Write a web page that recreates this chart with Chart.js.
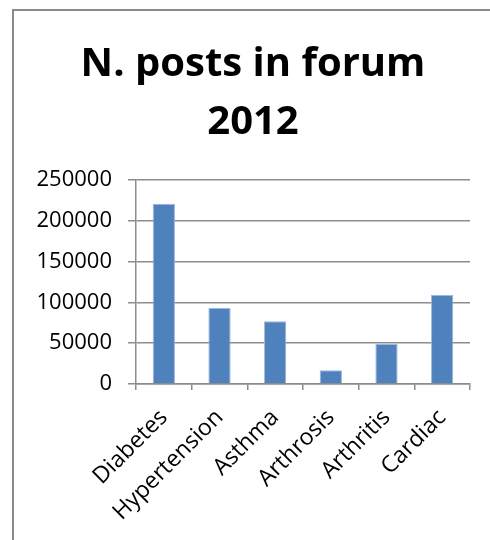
<!DOCTYPE html>
<html>
<head>
<meta charset="utf-8">
<script src="https://cdn.jsdelivr.net/npm/chart.js@4"></script>
<style>
  html, body { margin: 0; padding: 0; background: #fff; overflow: hidden; }
  #wrap { position: relative; width: 490px; height: 540px; }
  #frame {
    position: absolute; left: 12px; top: 9px; width: 500px; height: 560px;
    border: 2px solid #8a8a8a; box-sizing: border-box;
  }
  canvas { position: absolute; left: 0; top: 0; }
</style>
</head>
<body>
<div id="wrap">
  <div id="frame"></div>
  <canvas id="postsChart" width="490" height="540"></canvas>
</div>
<script>
// ---------- DATA ----------
const categories = ["Diabetes", "Hypertension", "Asthma", "Arthrosis", "Arthritis", "Cardiac"];
const posts = [221000, 93000, 77000, 17000, 49000, 109000];
const titleLines = ["N. posts in forum", "2012"];
const Y_MAX = 250000;
const Y_STEP = 50000;

const FONT = "'Open Sans', 'Noto Sans', sans-serif";
const GRID = "#8c8c8c";

// ---------- CHART ----------
const ctx = document.getElementById("postsChart").getContext("2d");

new Chart(ctx, {
  type: "bar",
  data: {
    labels: categories,
    datasets: [
      {
        label: "N. posts",
        data: posts,
        backgroundColor: "#4f81bd",
        borderColor: "#9cb7d9",
        borderWidth: 1,
        barPercentage: 0.4,
        categoryPercentage: 1,
      },
    ],
  },
  options: {
    responsive: false,
    animation: false,
    layout: {
      // left padding shifts the centred title to the right, as in the original
      padding: { top: 0, right: 20, bottom: 0, left: 36 },
    },
    plugins: {
      legend: { display: false },
      tooltip: { enabled: false },
      title: {
        display: true,
        text: titleLines,
        color: "#000",
        font: { family: FONT, size: 40, weight: "bold", lineHeight: 1.45 },
        padding: { top: 36, bottom: 28 },
      },
    },
    scales: {
      y: {
        min: 0,
        max: Y_MAX,
        ticks: {
          stepSize: Y_STEP,
          color: "#000",
          padding: 16,
          font: { family: FONT, size: 22 },
          callback: (value) => String(value),
        },
        grid: {
          color: GRID,
          lineWidth: 1.5,
          tickLength: 8,
        },
        border: { color: GRID, width: 1.5 },
        afterFit: (scale) => {
          scale.width = 100;
        },
      },
      x: {
        offset: true,
        ticks: {
          color: "#000",
          maxRotation: 45,
          minRotation: 45,
          padding: 14,
          font: { family: FONT, size: 23 },
        },
        grid: {
          offset: true,
          drawOnChartArea: false,
          color: GRID,
          lineWidth: 1.5,
          tickLength: 6,
        },
        border: { color: GRID, width: 1.5 },
        afterFit: (scale) => {
          scale.height = 156;
        },
      },
    },
  },
});
</script>
</body>
</html>
